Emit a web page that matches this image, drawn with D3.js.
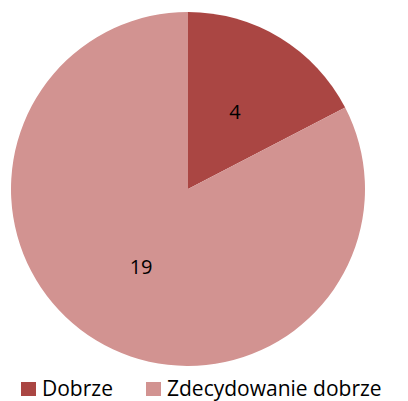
<!DOCTYPE html>
<html>
<head>
<meta charset="utf-8">
<script src="https://cdn.jsdelivr.net/npm/d3@7"></script>
<style>
  body { margin: 0; background: #fff; }
  text { font-family: "Open Sans", "Liberation Sans", sans-serif; }
</style>
</head>
<body>
<div id="chart"></div>
<script>
// Dane
const categories = ['Dobrze', 'Zdecydowanie dobrze'];
const values = [4, 19];
const colors = ['#AA4643', '#D29391'];

const width = 408;
const height = 401;
const cx = 188, cy = 189, radius = 177;

const data = categories.map((c, i) => ({ category: c, value: values[i] }));

const color = d3.scaleOrdinal().domain(categories).range(colors);

const svg = d3.select('#chart')
  .append('svg')
  .attr('width', width)
  .attr('height', height);

const pie = d3.pie().sort(null).value(d => d.value);
const arc = d3.arc().innerRadius(0).outerRadius(radius);
const labelArc = d3.arc().innerRadius(radius * 0.51).outerRadius(radius * 0.51);

const g = svg.append('g').attr('transform', `translate(${cx},${cy})`);

g.selectAll('path')
  .data(pie(data))
  .enter()
  .append('path')
  .attr('d', arc)
  .attr('fill', d => color(d.data.category));

g.selectAll('.label')
  .data(pie(data))
  .enter()
  .append('text')
  .attr('class', 'label')
  .attr('transform', d => `translate(${labelArc.centroid(d)})`)
  .attr('text-anchor', 'middle')
  .attr('dominant-baseline', 'central')
  .attr('font-size', 20)
  .attr('fill', '#000')
  .text(d => d.data.value);

// Legenda
const legendX = [21, 146];
const legend = svg.selectAll('.legend')
  .data(categories)
  .enter()
  .append('g')
  .attr('class', 'legend')
  .attr('transform', (d, i) => `translate(${legendX[i]},382)`);

legend.append('rect')
  .attr('width', 15)
  .attr('height', 14)
  .attr('fill', d => color(d));

legend.append('text')
  .attr('x', 21)
  .attr('y', 6)
  .attr('dominant-baseline', 'central')
  .attr('font-size', 21)
  .attr('fill', '#000')
  .text(d => d);
</script>
</body>
</html>
